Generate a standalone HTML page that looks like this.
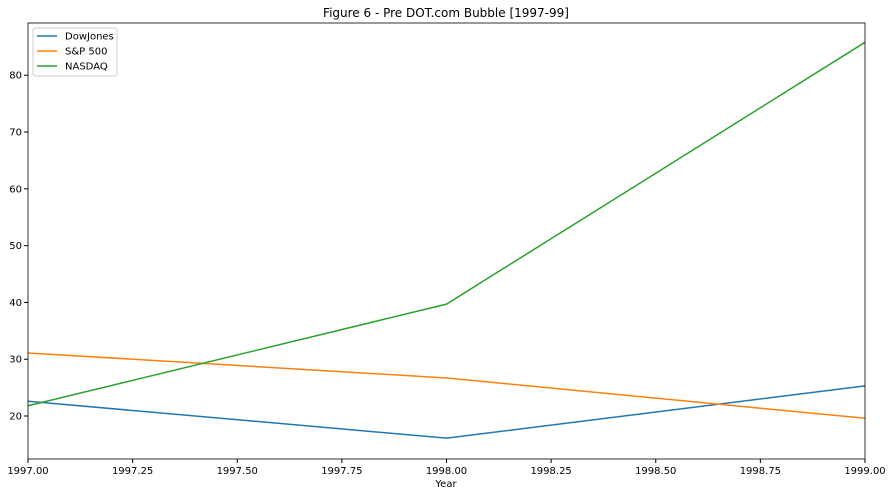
<!DOCTYPE html>
<html><head><meta charset="utf-8">
<style>
body{margin:0;background:#fff;font-family:"Liberation Sans","DejaVu Sans",sans-serif;}
svg text{font-family:"DejaVu Sans","Liberation Sans",sans-serif;font-size:10px;fill:#000;}
</style></head>
<body>
<svg id="chart" width="892" height="496" xmlns="http://www.w3.org/2000/svg">
<text x="446" y="17" text-anchor="middle" style="font-size:12px">Figure 6 - Pre DOT.com Bubble [1997-99]</text>
<g id="plot"></g>
<text x="446" y="487" text-anchor="middle">Year</text>
</svg>
<script>
const years=[1997,1998,1999];
const dowValues=[22.6,16.1,25.3];
const spValues=[31.1,26.7,19.6];
const nasdaqValues=[21.8,39.7,85.8];
const seriesNames=["DowJones","S&P 500","NASDAQ"];
const xTicks=[1997,1997.25,1997.5,1997.75,1998,1998.25,1998.5,1998.75,1999];
const yTicks=[20,30,40,50,60,70,80];
const colors=["#1f77b4","#ff7f0e","#2ca02c"];
const L=28,R=865,T=23,B=459;
const xMin=1997,xMax=1999,yMin=12.43,yMax=89.2;
const xs=v=>L+(v-xMin)/(xMax-xMin)*(R-L);
const ys=v=>B-(v-yMin)/(yMax-yMin)*(B-T);
const NS="http://www.w3.org/2000/svg";
const g=document.getElementById('plot');
function mk(tag,attrs){const e=document.createElementNS(NS,tag);for(const k in attrs)e.setAttribute(k,attrs[k]);g.appendChild(e);return e;}
xTicks.forEach(t=>{
 const x=xs(t);
 const tk=mk('line',{x1:x,x2:x,y1:B,y2:B+4,stroke:'#000'});
 
 
 const tx=mk('text',{x:x,y:B+15,'text-anchor':'middle'});tx.textContent=t.toFixed(2);
 
 
});
yTicks.forEach(t=>{
 const y=ys(t);
 const tk=mk('line',{x1:L-4,x2:L,y1:y,y2:y,stroke:'#000'});
 
 
 const tx=mk('text',{x:L-6,y:y+3.5,'text-anchor':'end'});tx.textContent=t;
 
 
});
[dowValues,spValues,nasdaqValues].forEach((vals,i)=>{
 const p=mk('polyline',{points:vals.map((v,j)=>xs(years[j])+','+ys(v)).join(' '),fill:'none',stroke:colors[i],'stroke-width':1.5});
 
 
});
const fr=mk('rect',{x:L,y:T,width:R-L,height:B-T,fill:'none',stroke:'#000','stroke-width':0.8});


const lg=mk('rect',{x:33,y:28,width:84,height:48,fill:'#fff',stroke:'#ccc',rx:2});


seriesNames.forEach((n,i)=>{
 const y=36+i*15;
 const l=mk('line',{x1:37,x2:57,y1:y,y2:y,stroke:colors[i],'stroke-width':1.5});
 
 
 const t=mk('text',{x:65,y:y+3.5});t.textContent=n;
 
 
});
</script>
</body></html>
